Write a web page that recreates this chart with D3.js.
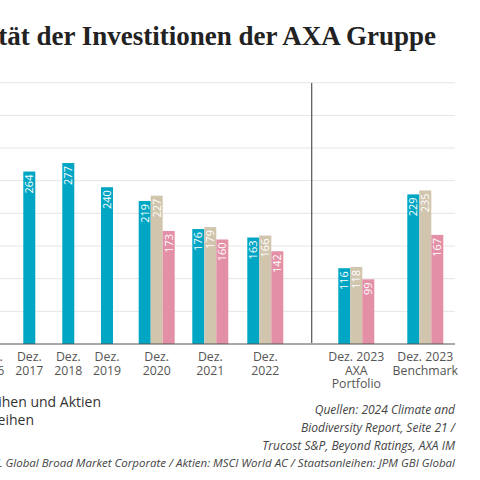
<!DOCTYPE html>
<html><head><meta charset="utf-8">
<script src="https://cdn.jsdelivr.net/npm/d3@7"></script>
<style>body{margin:0;background:#fff}svg{display:block}</style>
</head><body>
<svg id="c" width="480" height="480"></svg>
<script>
const categories = ["Dez. 2016","Dez. 2017","Dez. 2018","Dez. 2019","Dez. 2020","Dez. 2021","Dez. 2022","Dez. 2023 AXA Portfolio","Dez. 2023 Benchmark"];
const labelLines = [["Dez.","2016"],["Dez.","2017"],["Dez.","2018"],["Dez.","2019"],["Dez.","2020"],["Dez.","2021"],["Dez.","2022"],["Dez. 2023","AXA","Portfolio"],["Dez. 2023","Benchmark"]];
const seriesNames = ["Gesamt","Unternehmensanleihen und Aktien","Staatsanleihen"];
const seriesA = [null,264,277,240,219,176,163,116,229];
const seriesB = [null,null,null,null,227,179,166,118,235];
const seriesC = [null,null,null,null,173,160,142,99,167];
const yTicks = [0,50,100,150,200,250,300,350,400];
const colors = ["#00a6c3","#d1c5ae","#e38fa6"];

const svg = d3.select("#c");
const y = d3.scaleLinear().domain([0,400]).range([344,82.7]);
const centers = d3.scaleOrdinal().domain(categories).range([-9.7,29.3,68.3,107,156.7,210.3,265.3,356.3,425.3]);
const bw = 12;

svg.append("text").attr("x",436).attr("y",45).attr("text-anchor","end")
  .attr("font-family","Liberation Serif").attr("font-weight","bold").attr("font-size",27).attr("fill","#222")
  .text("Klimaintensität der Investitionen der AXA Gruppe");

svg.append("g").selectAll("line").data(yTicks.slice(1)).join("line")
  .attr("x1",-20).attr("x2",455).attr("y1",d=>y(d)).attr("y2",d=>y(d)).attr("stroke","#e6e6e6");

svg.append("line").attr("x1",311.7).attr("x2",311.7).attr("y1",83).attr("y2",343).attr("stroke","#555").attr("stroke-width",1.2);

const all = [seriesA,seriesB,seriesC];
categories.forEach((c,i)=>{
  const vals = all.map((s,k)=>({k,v:s[i]})).filter(d=>d.v!=null);
  const n = vals.length;
  vals.forEach((d,j)=>{
    const x0 = centers(c) - n*bw/2 + j*bw;
    svg.append("rect").attr("x",x0).attr("width",bw).attr("y",y(d.v)).attr("height",y(0)-y(d.v)).attr("fill",colors[d.k]);
    svg.append("text").attr("transform",`translate(${x0+bw/2+4},${y(d.v)+3}) rotate(-90)`)
      .attr("text-anchor","end").attr("font-family","Open Sans").attr("font-size",11).attr("fill","#fff").text(d.v);
  });
  const t = svg.append("text").attr("text-anchor","middle").attr("font-family","Open Sans").attr("font-size",12.3).attr("fill","#555");
  labelLines[i].forEach((l,j)=>t.append("tspan").attr("x",centers(c)).attr("y",361+j*13.5).text(l));
});

svg.append("line").attr("x1",-20).attr("x2",455).attr("y1",344).attr("y2",344).attr("stroke","#555").attr("stroke-width",1.2);

svg.append("text").attr("x",101).attr("y",407).attr("text-anchor","end").attr("font-family","Open Sans").attr("font-size",14).attr("fill","#333").text(seriesNames[1]);
svg.append("text").attr("x",34).attr("y",425).attr("text-anchor","end").attr("font-family","Open Sans").attr("font-size",14).attr("fill","#333").text(seriesNames[2]);

const src = ["Quellen: 2024 Climate and","Biodiversity Report, Seite 21 /","Trucost S&P, Beyond Ratings, AXA IM"];
src.forEach((s,i)=>svg.append("text").attr("x",455).attr("y",414+i*18).attr("text-anchor","end")
  .attr("font-family","Open Sans").attr("font-style","italic").attr("font-size",12).attr("fill","#444").text(s));

svg.append("text").attr("x",455).attr("y",467).attr("text-anchor","end").attr("font-family","Open Sans").attr("font-style","italic").attr("font-size",11.5).attr("fill","#444")
  .text("Benchmark: Unternehmensanleihen: ICE BofAML Global Broad Market Corporate / Aktien: MSCI World AC / Staatsanleihen: JPM GBI Global");
</script>
</body></html>
